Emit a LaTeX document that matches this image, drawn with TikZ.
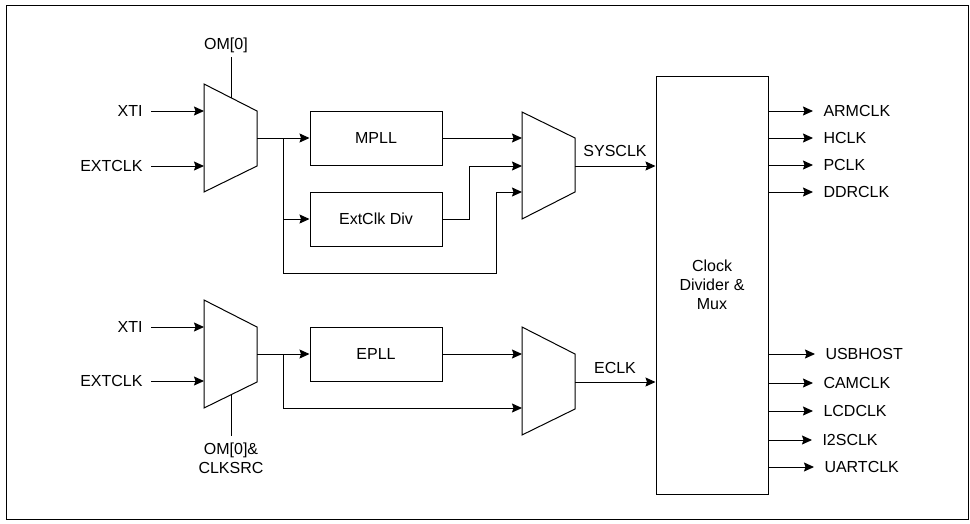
\documentclass[tikz,border=0pt]{standalone}
\usepackage{fontspec}
\setmainfont{Liberation Sans}
\usetikzlibrary{arrows.meta}
\begin{document}
\begin{tikzpicture}[x=1pt,y=-1pt, line width=1pt,
  arr/.style={-{Stealth[length=10pt,width=9pt,inset=1.5pt]}},
  blk/.style={draw, minimum width=132pt, minimum height=54pt, inner sep=0pt, font=\fontsize{16}{19}\selectfont},
  lbl/.style={font=\fontsize{16}{19}\selectfont, inner sep=0pt},
  mux/.style={draw, line join=miter}]
\useasboundingbox (0,0) rectangle (970,523);
\draw (6,5) rectangle (968,519);

% ---- muxes
\draw[mux] (204,84) -- (257,111) -- (257,166) -- (204,192) -- cycle;
\draw[mux] (522,112) -- (575,138) -- (575,192) -- (522,219) -- cycle;
\draw[mux] (204,300) -- (257,327) -- (257,382) -- (204,408) -- cycle;
\draw[mux] (522,327) -- (575,354) -- (575,409) -- (522,435) -- cycle;

\coordinate (m1a) at (204,111);
\coordinate (m1b) at (204,166);
\coordinate (m1o) at (257,138);
\coordinate (m1s) at (231,97.75);
\coordinate (m2a) at (522,138);
\coordinate (m2b) at (522,166);
\coordinate (m2c) at (522,192);
\coordinate (m2o) at (575,166);
\coordinate (m3a) at (204,327);
\coordinate (m3b) at (204,381);
\coordinate (m3o) at (257,354);
\coordinate (m3s) at (231,394.25);
\coordinate (m4a) at (522,354);
\coordinate (m4b) at (522,408);
\coordinate (m4o) at (575,382);
\coordinate (b1) at (283,138);
\coordinate (b2) at (283,354);
\coordinate (j1) at (496,273);
\coordinate (j2) at (469,219);

% ---- blocks
\node[blk] (mpll) at (376,138) {MPLL};
\node[blk] (ext) at (376,219) {ExtClk Div};
\node[blk] (epll) at (376,354) {EPLL};
\node[draw, minimum width=112pt, minimum height=418pt, inner sep=0pt, align=center,
      font=\fontsize{16}{19}\selectfont] (clk) at (712,285) {Clock\\Divider \&\\Mux};

% ---- input labels
\node[lbl, anchor=east] (xti1) at (143,111) {XTI};
\node[lbl, anchor=east] (ext1) at (143,166) {EXTCLK};
\node[lbl, anchor=east] (xti2) at (143,327) {XTI};
\node[lbl, anchor=east] (ext2) at (143,381) {EXTCLK};
\node[lbl] (om1) at (226,45) {OM[0]};
\node[lbl, align=center] (om2) at (231,458.5) {OM[0]\&\\CLKSRC};
\node[lbl] (sys) at (615,151) {SYSCLK};
\node[lbl] (eclk) at (615,368) {ECLK};

\draw[arr] ([xshift=8pt]xti1.east) -- (m1a);
\draw[arr] ([xshift=8pt]ext1.east) -- (m1b);
\draw[arr] ([xshift=8pt]xti2.east) -- (m3a);
\draw[arr] ([xshift=8pt]ext2.east) -- (m3b);
\draw (m1s) -- (m1s |- 0,57);
\draw (m3s) -- (m3s |- 0,436);

% ---- upper path
\draw[arr] (m1o) -- (mpll.west);
\draw[arr] (b1) |- (ext.west);
\draw[arr] (b1) |- (j1) |- (m2c);
\draw[arr] (mpll.east) -- (m2a);
\draw[arr] (ext.east) -- (j2) |- (m2b);
\draw[arr] (m2o) -- (m2o -| clk.west);

% ---- lower path
\draw[arr] (m3o) -- (epll.west);
\draw[arr] (b2) |- (m4b);
\draw[arr] (epll.east) -- (m4a);
\draw[arr] (m4o) -- (m4o -| clk.west);

% ---- outputs
\foreach \nm/\txt/\yy/\xx in {o1/ARMCLK/111/823, o2/HCLK/138/823, o3/PCLK/165/823, o4/DDRCLK/192/823,
    o5/USBHOST/354/825, o6/CAMCLK/383/823, o7/LCDCLK/411/823, o8/I2SCLK/440/822, o9/UARTCLK/467/824}{
  \node[lbl, anchor=west] (\nm) at (\xx,\yy) {\txt};
  \draw[arr] (clk.east |- \nm.west) -- ([xshift=-10pt]\nm.west |- 0,\yy);
}
\end{tikzpicture}
\end{document}
